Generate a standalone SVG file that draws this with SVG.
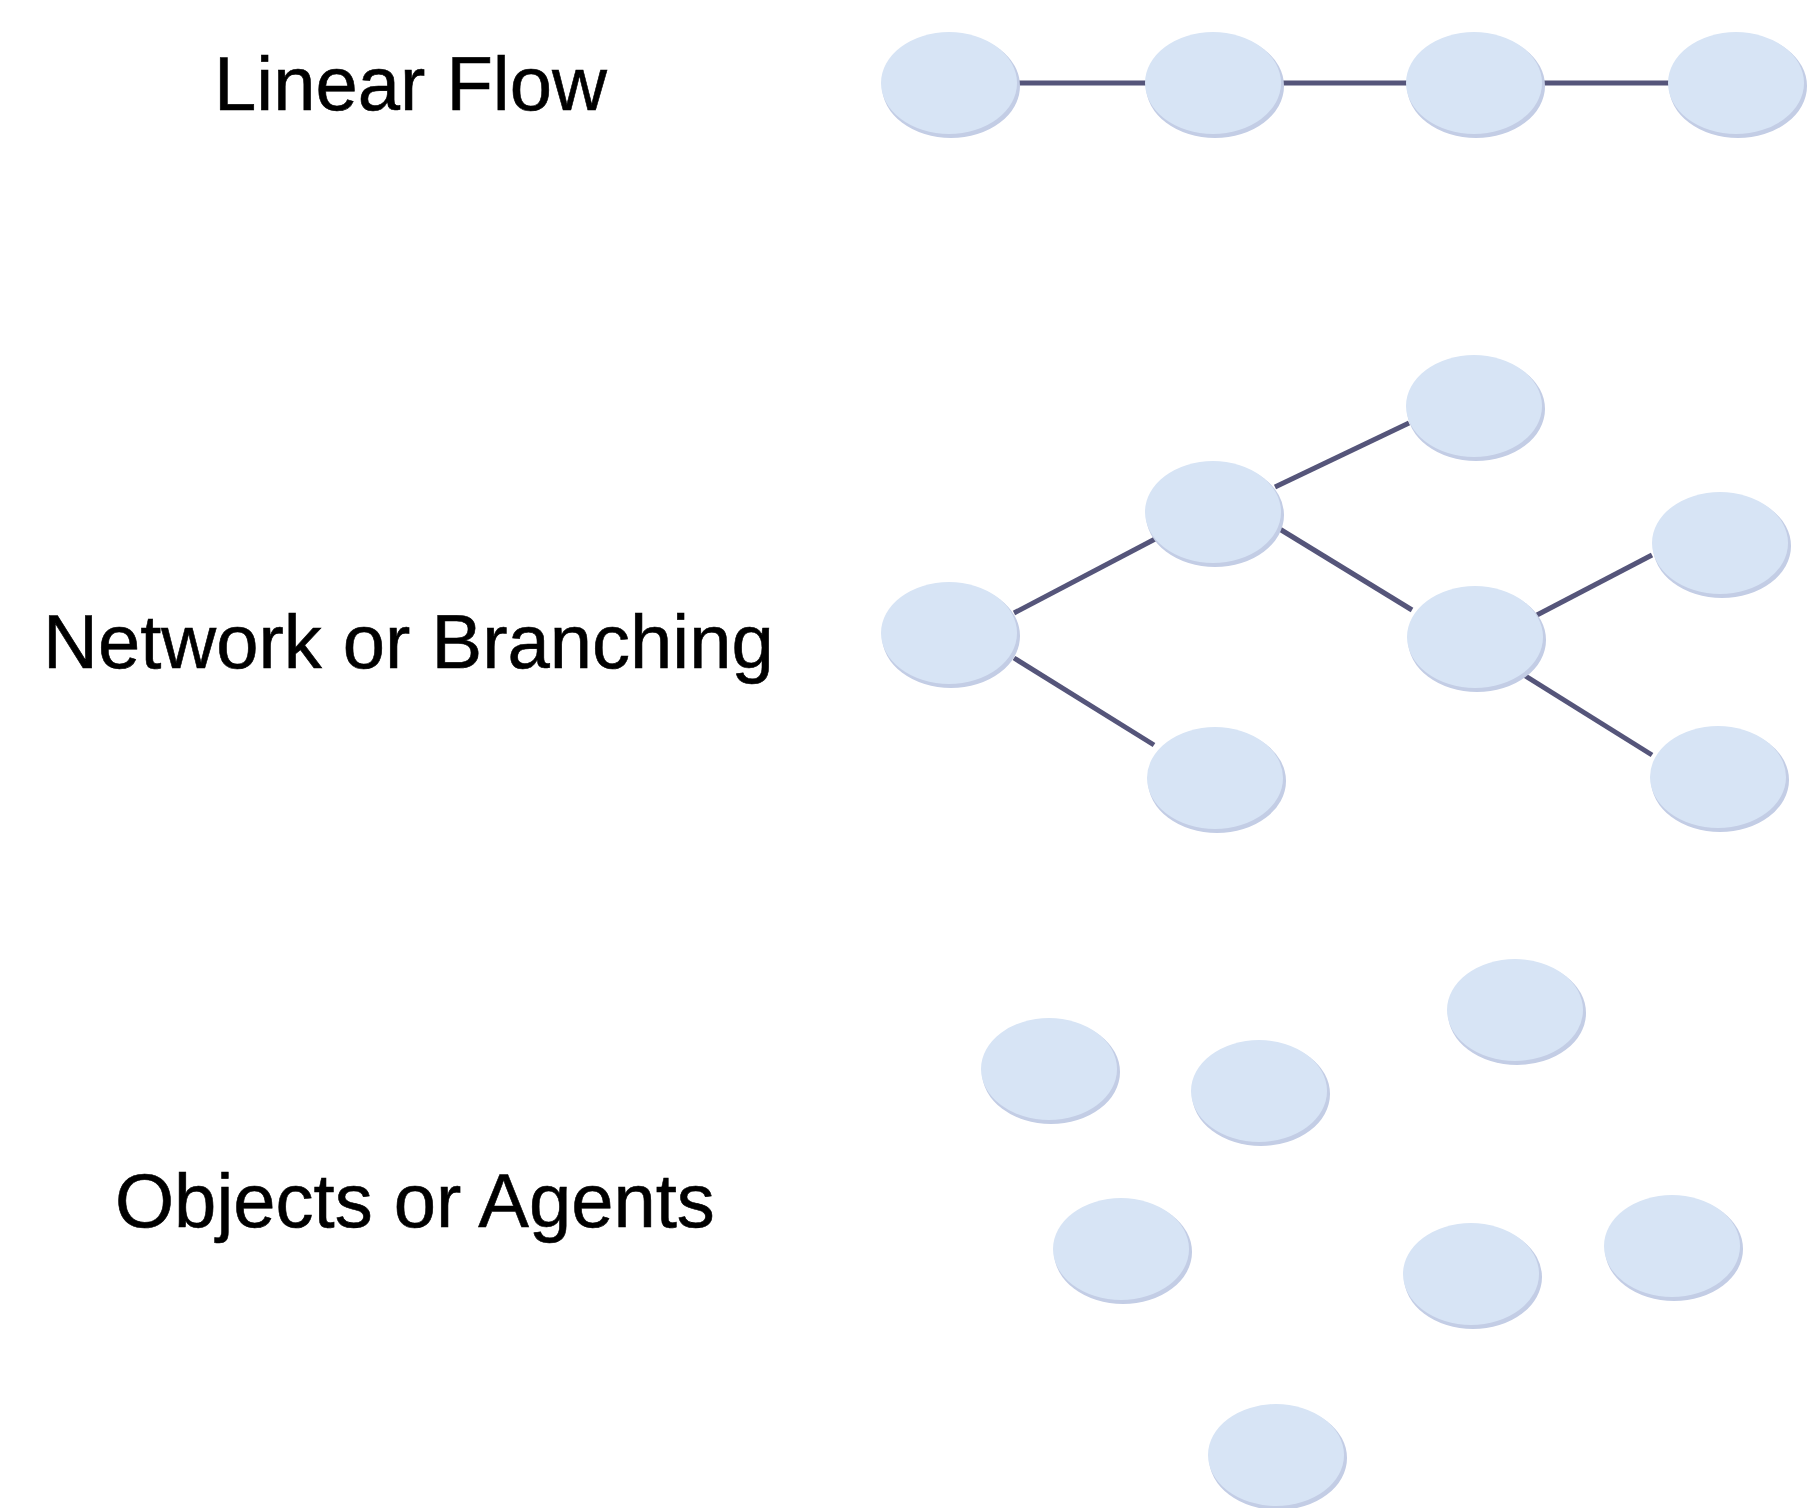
<svg xmlns="http://www.w3.org/2000/svg" width="1815" height="1508" viewBox="0 0 1815 1508">
  <style>
    .label { font-family: "Liberation Sans", Arial, sans-serif; font-size: 76px; fill: #000000; stroke: #000000; stroke-width: 0.6; }
    .edge { stroke: #55557a; stroke-width: 5; stroke-linecap: butt; fill: none; }
    .shade { fill: #c3cde5; }
    .body { fill: #d7e4f5; }
  </style>
  <defs>
    <!-- one node: soft shadow on the lower right, light blue face on top -->
    <g id="blob">
      <ellipse class="shade" cx="2" cy="3" rx="69" ry="52"/>
      <ellipse class="body" cx="0" cy="0" rx="68" ry="51"/>
    </g>
  </defs>

  <rect width="1815" height="1508" fill="#ffffff"/>

  <!-- section titles -->
  <g id="titles">
    <text class="label" x="214" y="110">Linear Flow</text>
    <text class="label" x="43" y="668">Network or Branching</text>
    <text class="label" x="115" y="1227">Objects or Agents</text>
  </g>

  <!-- connectors -->
  <g id="connectors">
    <line class="edge" x1="949" y1="83" x2="1213" y2="83"/>
    <line class="edge" x1="1213" y1="83" x2="1474" y2="83"/>
    <line class="edge" x1="1474" y1="83" x2="1736" y2="83"/>

    <line class="edge" x1="1014" y1="613" x2="1157" y2="538"/>
    <line class="edge" x1="1014" y1="658" x2="1154" y2="745"/>
    <line class="edge" x1="1275" y1="487" x2="1409" y2="423"/>
    <line class="edge" x1="1278" y1="528" x2="1412" y2="610"/>
    <line class="edge" x1="1537" y1="615" x2="1652" y2="555"/>
    <line class="edge" x1="1524" y1="675" x2="1652" y2="755"/>
  </g>

  <!-- linear flow -->
  <g id="lin1"><use href="#blob" x="949" y="83"/></g>
  <g id="lin2"><use href="#blob" x="1213" y="83"/></g>
  <g id="lin3"><use href="#blob" x="1474" y="83"/></g>
  <g id="lin4"><use href="#blob" x="1736" y="83"/></g>

  <!-- branching network -->
  <g id="net-root"><use href="#blob" x="949" y="633"/></g>
  <g id="net-upper"><use href="#blob" x="1213" y="512"/></g>
  <g id="net-top"><use href="#blob" x="1474" y="406"/></g>
  <g id="net-lower"><use href="#blob" x="1215" y="778"/></g>
  <g id="net-mid"><use href="#blob" x="1475" y="637"/></g>
  <g id="net-right-up"><use href="#blob" x="1720" y="543"/></g>
  <g id="net-right-down"><use href="#blob" x="1718" y="777"/></g>

  <!-- free agents -->
  <g id="agent1"><use href="#blob" x="1049" y="1069"/></g>
  <g id="agent2"><use href="#blob" x="1259" y="1091"/></g>
  <g id="agent3"><use href="#blob" x="1515" y="1010"/></g>
  <g id="agent4"><use href="#blob" x="1121" y="1249"/></g>
  <g id="agent5"><use href="#blob" x="1471" y="1274"/></g>
  <g id="agent6"><use href="#blob" x="1672" y="1246"/></g>
  <g id="agent7"><use href="#blob" x="1276" y="1455"/></g>
</svg>
